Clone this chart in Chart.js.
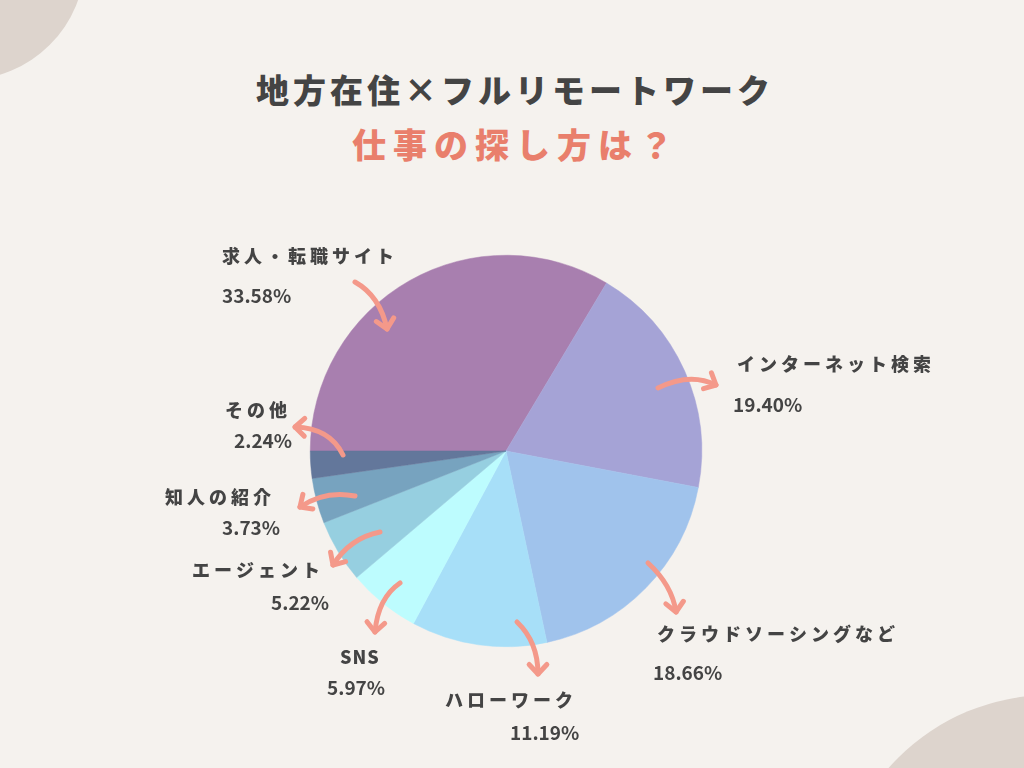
<!DOCTYPE html>
<html lang="ja">
<head>
<meta charset="utf-8">
<script src="https://cdn.jsdelivr.net/npm/chart.js@4"></script>
<style>
  html, body { margin: 0; padding: 0; background: #f5f2ee; }
  #wrap { position: relative; width: 1024px; height: 768px; overflow: hidden; background: #f5f2ee; }
  .blob { position: absolute; border-radius: 50%; background: #ddd4cd; }
  .title { position: absolute; left: 0; width: 1024px; text-align: center;
           font-family: "Noto Sans CJK JP", sans-serif; font-weight: 900; }
  #t1 { top: 65px; left: 3px; font-size: 33px; color: #444444; letter-spacing: 4px; }
  #t2 { top: 119px; left: 4px; font-size: 34px; color: #e97f6c; letter-spacing: 7px; }
  canvas { position: absolute; left: 0; top: 0; }
</style>
</head>
<body>
<div id="wrap">
  <div class="blob" style="left:-155px; top:-160px; width:240px; height:240px;"></div>
  <div class="blob" style="left:835px; top:695px; width:430px; height:430px;"></div>
  <div class="title" id="t1">地方在住×フルリモートワーク</div>
  <div class="title" id="t2">仕事の探し方は？</div>
  <canvas id="pie" width="1024" height="768"></canvas>
</div>
<script>
// データ
const categories = ['求人・転職サイト', 'インターネット検索', 'クラウドソーシングなど', 'ハローワーク', 'SNS', 'エージェント', '知人の紹介', 'その他'];
const shares = [33.58, 19.40, 18.66, 11.19, 5.97, 5.22, 3.73, 2.24];
const sliceColors = ['#a87faf', '#a5a3d6', '#a0c3ec', '#a7dff8', '#bdfcfe', '#96cfe0', '#77a3bf', '#63779b'];

// ラベルと矢印の配置
const labelLayout = [
  { nx: 222, ny: 256, px: 222, py: 296 },
  { nx: 737, ny: 364, px: 733, py: 405 },
  { nx: 657, ny: 634, px: 653, py: 673 },
  { nx: 445, ny: 700, px: 510, py: 733 },
  { nx: 340, ny: 657, px: 327, py: 688 },
  { nx: 192, ny: 570, px: 271, py: 603 },
  { nx: 165, ny: 497, px: 222, py: 528 },
  { nx: 225, ny: 410, px: 234, py: 441 }
];
const arrows = [
  [[355, 282], [380, 296], [387, 329]],
  [[658, 388], [690, 372], [716, 385]],
  [[648, 563], [672, 585], [676, 612]],
  [[517, 622], [538, 642], [538, 674]],
  [[400, 583], [378, 598], [375, 632]],
  [[380, 532], [350, 538], [333, 565]],
  [[355, 496], [325, 490], [300, 507]],
  [[343, 455], [330, 428], [295, 427]]
];

const labelPlugin = {
  id: 'labels',
  afterDraw(chart) {
    const c = chart.ctx;
    c.save();
    // 矢印
    c.strokeStyle = '#f4998a';
    c.lineWidth = 5;
    c.lineCap = 'round';
    c.lineJoin = 'round';
    arrows.forEach(a => {
      const [s, k, e] = a;
      c.beginPath();
      c.moveTo(s[0], s[1]);
      c.quadraticCurveTo(k[0], k[1], e[0], e[1]);
      c.stroke();
      const ang = Math.atan2(e[1] - k[1], e[0] - k[0]);
      const len = 13;
      c.beginPath();
      c.moveTo(e[0] - len * Math.cos(ang - 0.75), e[1] - len * Math.sin(ang - 0.75));
      c.lineTo(e[0], e[1]);
      c.lineTo(e[0] - len * Math.cos(ang + 0.75), e[1] - len * Math.sin(ang + 0.75));
      c.stroke();
    });
    // ラベル
    c.fillStyle = '#444444';
    c.textBaseline = 'middle';
    c.textAlign = 'left';
    categories.forEach((name, i) => {
      const p = labelLayout[i];
      c.font = '900 18px "Noto Sans CJK JP", sans-serif';
      c.letterSpacing = name === 'SNS' ? '1px' : '4px';
      c.fillText(name, p.nx, p.ny);
      c.font = '700 19px "Noto Sans CJK JP", sans-serif';
      c.letterSpacing = '0px';
      c.fillText(shares[i].toFixed(2) + '%', p.px, p.py);
    });
    c.restore();
  }
};

const ctx = document.getElementById('pie').getContext('2d');
new Chart(ctx, {
  type: 'pie',
  data: {
    labels: categories,
    datasets: [{
      data: shares,
      backgroundColor: sliceColors,
      borderColor: sliceColors,
      borderWidth: 0.5
    }]
  },
  options: {
    responsive: false,
    animation: false,
    rotation: -90,
    layout: { padding: { left: 310, right: 322, top: 255, bottom: 121 } },
    plugins: {
      legend: { display: false },
      tooltip: { enabled: false }
    }
  },
  plugins: [labelPlugin]
});
</script>
</body>
</html>
